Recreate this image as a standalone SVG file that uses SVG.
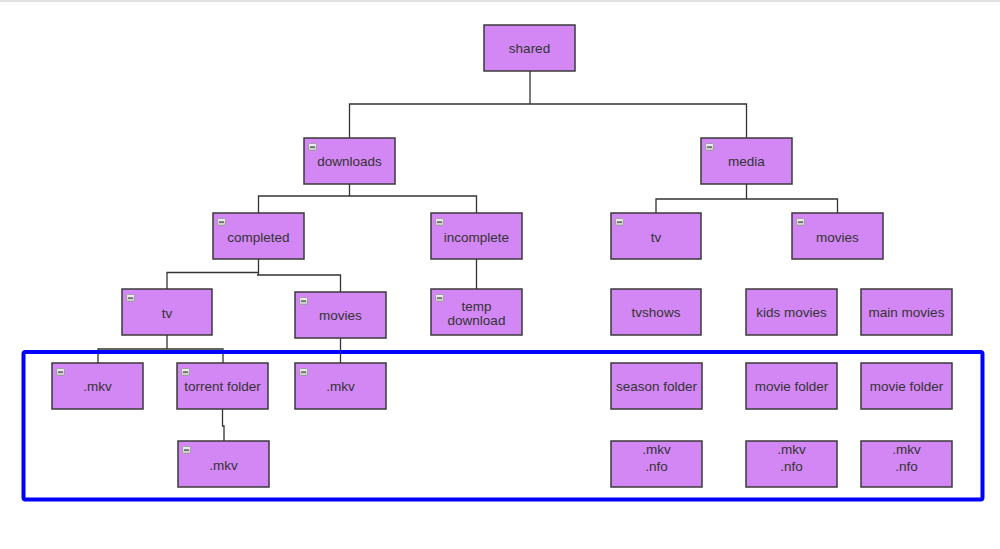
<svg xmlns="http://www.w3.org/2000/svg" width="1000" height="549" viewBox="0 0 1000 549">
<defs>
<linearGradient id="ig" x1="0" y1="0" x2="0" y2="1">
<stop offset="0" stop-color="#f4f4f4"/>
<stop offset="1" stop-color="#c4c4c4"/>
</linearGradient>
<symbol id="minus" viewBox="0 0 9 8" overflow="visible">
<rect x="0.5" y="0.5" width="8" height="7" rx="1.3" fill="url(#ig)" stroke="#9a9a9a" stroke-width="0.9"/>
<rect x="2" y="3.4" width="5" height="1.4" fill="#555"/>
</symbol>
</defs>
<style>
.n{fill:#d387f4;stroke:#3a3a3a;stroke-width:1.5}
.t{font-family:"Liberation Sans",Arial,sans-serif;font-size:13.5px;fill:#333;text-anchor:middle}
.c{fill:none;stroke:#333;stroke-width:1.3}
</style>
<rect x="0" y="0" width="1000" height="549" fill="#fff"/>
<rect x="0" y="0" width="1000" height="2" fill="#e0e0e0"/>

<g id="connectors">
<path class="c" d="M530 71V104M349.5 138V104H746.5V138"/>
<path class="c" d="M349.5 184V196M258.5 213V196H476.5V213"/>
<path class="c" d="M258.5 259V275M258.5 272.5H167V289M257 275H340.5V292"/>
<path class="c" d="M476.5 259V289"/>
<path class="c" d="M167 335V349M98 363V349H223V363"/>
<path class="c" d="M340.5 338V363"/>
<path class="c" d="M222.5 409V426H224V441"/>
<path class="c" d="M746.5 184V199M656 213V199H837.5V213"/>
</g>

<g id="shared"><rect class="n" x="484" y="25" width="91" height="46"/><text class="t" x="529.5" y="53">shared</text></g>
<g id="downloads"><rect class="n" x="304" y="138" width="91" height="46"/><use href="#minus" x="308" y="143" width="9" height="8"/><text class="t" x="349.5" y="166">downloads</text></g>
<g id="media"><rect class="n" x="701" y="138" width="91" height="46"/><use href="#minus" x="705" y="143" width="9" height="8"/><text class="t" x="746.5" y="166">media</text></g>
<g id="completed"><rect class="n" x="213" y="213" width="91" height="46"/><use href="#minus" x="217" y="218" width="9" height="8"/><text class="t" x="258.5" y="242">completed</text></g>
<g id="incomplete"><rect class="n" x="431" y="213" width="91" height="46"/><use href="#minus" x="435" y="218" width="9" height="8"/><text class="t" x="476.5" y="242">incomplete</text></g>
<g id="tv-downloads"><rect class="n" x="122" y="289" width="90" height="46"/><use href="#minus" x="126" y="294" width="9" height="8"/><text class="t" x="167" y="318">tv</text></g>
<g id="movies-downloads"><rect class="n" x="295" y="292" width="91" height="46"/><use href="#minus" x="299" y="297" width="9" height="8"/><text class="t" x="340.5" y="320">movies</text></g>
<g id="temp-download"><rect class="n" x="431" y="289" width="91" height="46"/><use href="#minus" x="435" y="294" width="9" height="8"/><text class="t" x="476.5" y="310.5">temp</text><text class="t" x="476.5" y="324.5">download</text></g>
<g id="tv-media"><rect class="n" x="611" y="213" width="90" height="46"/><use href="#minus" x="615" y="218" width="9" height="8"/><text class="t" x="656" y="242">tv</text></g>
<g id="movies-media"><rect class="n" x="792" y="213" width="91" height="46"/><use href="#minus" x="796" y="218" width="9" height="8"/><text class="t" x="837.5" y="242">movies</text></g>
<g id="tvshows"><rect class="n" x="611" y="289" width="90" height="46"/><text class="t" x="656" y="317">tvshows</text></g>
<g id="kids-movies"><rect class="n" x="746" y="289" width="91" height="46"/><text class="t" x="791.5" y="317">kids movies</text></g>
<g id="main-movies"><rect class="n" x="861" y="289" width="91" height="46"/><text class="t" x="906.5" y="317">main movies</text></g>
<g id="mkv-tv"><rect class="n" x="52" y="363" width="91" height="46"/><use href="#minus" x="56" y="368" width="9" height="8"/><text class="t" x="97.5" y="391">.mkv</text></g>
<g id="torrent-folder"><rect class="n" x="177" y="363" width="91" height="46"/><use href="#minus" x="181" y="368" width="9" height="8"/><text class="t" x="222.5" y="391">torrent folder</text></g>
<g id="mkv-movies"><rect class="n" x="295" y="363" width="91" height="46"/><use href="#minus" x="299" y="368" width="9" height="8"/><text class="t" x="340.5" y="391">.mkv</text></g>
<g id="mkv-torrent"><rect class="n" x="178" y="441" width="91" height="46"/><use href="#minus" x="182" y="446" width="9" height="8"/><text class="t" x="223.5" y="470">.mkv</text></g>
<g id="season-folder"><rect class="n" x="611" y="363" width="91" height="46"/><text class="t" x="656.5" y="391">season folder</text></g>
<g id="movie-folder-1"><rect class="n" x="746" y="363" width="91" height="46"/><text class="t" x="791.5" y="391">movie folder</text></g>
<g id="movie-folder-2"><rect class="n" x="861" y="363" width="91" height="46"/><text class="t" x="906.5" y="391">movie folder</text></g>
<g id="files-season"><rect class="n" x="611" y="441" width="91" height="46"/><text class="t" x="656.5" y="454">.mkv</text><text class="t" x="656.5" y="470.5">.nfo</text></g>
<g id="files-movie-1"><rect class="n" x="746" y="441" width="91" height="46"/><text class="t" x="791.5" y="454">.mkv</text><text class="t" x="791.5" y="470.5">.nfo</text></g>
<g id="files-movie-2"><rect class="n" x="861" y="441" width="91" height="46"/><text class="t" x="906.5" y="454">.mkv</text><text class="t" x="906.5" y="470.5">.nfo</text></g>

<g id="highlight"><rect x="23.5" y="352" width="959" height="147.5" rx="2" fill="none" stroke="#0000ff" stroke-width="4"/></g>
</svg>
